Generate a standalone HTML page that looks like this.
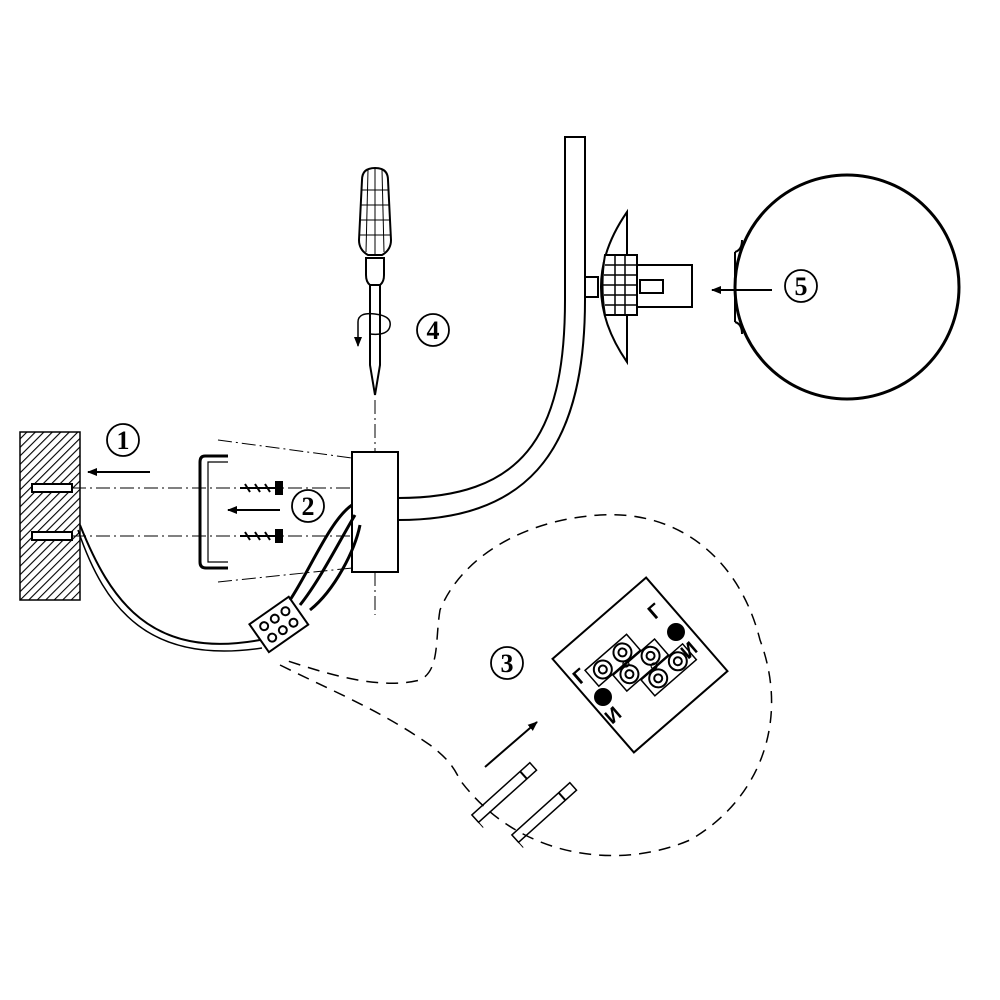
<!DOCTYPE html>
<html><head><style>body{margin:0;background:#fff}svg{display:block}</style></head><body>
<svg width="1000" height="1000" viewBox="0 0 1000 1000" xmlns="http://www.w3.org/2000/svg" font-family="Liberation Serif, serif">
<defs>
<pattern id="h" width="6" height="6" patternUnits="userSpaceOnUse" patternTransform="rotate(45)"><rect width="6" height="6" fill="#fff"/><line x1="0" y1="0" x2="0" y2="6" stroke="#000" stroke-width="2.2"/></pattern>
<marker id="a" markerWidth="10" markerHeight="8" refX="9" refY="4" orient="auto" markerUnits="userSpaceOnUse"><path d="M0,0 L10,4 L0,8z" fill="#000"/></marker>
</defs>
<g fill="none" stroke="#000" stroke-width="2">
<rect x="20" y="432" width="60" height="168" fill="url(#h)" stroke-width="1.5"/>
<rect x="32" y="484" width="40" height="8" fill="#fff"/>
<rect x="32" y="532" width="40" height="8" fill="#fff"/>
<line x1="150" y1="472" x2="88" y2="472" marker-end="url(#a)"/>
<line x1="280" y1="510" x2="228" y2="510" marker-end="url(#a)"/>
<line x1="772" y1="290" x2="712" y2="290" marker-end="url(#a)"/>
<g stroke-width="1" stroke-dasharray="14,4,2,4">
<line x1="72" y1="488" x2="352" y2="488"/>
<line x1="72" y1="536" x2="352" y2="536"/>
<line x1="218" y1="440" x2="352" y2="458"/>
<line x1="218" y1="582" x2="352" y2="568"/>
<line x1="375" y1="400" x2="375" y2="452"/>
<line x1="375" y1="572" x2="375" y2="615"/>
</g>
<path d="M228,456 H205 Q200,456 200,462 V562 Q200,568 206,568 H228" stroke-width="3"/>
<path d="M228,462 H208 V562 H228" stroke-width="1.2"/>
<path d="M240,488 H280 M245,484 L250,492 M255,484 L260,492 M265,484 L270,492" stroke-width="2"/>
<path d="M240,536 H280 M245,532 L250,540 M255,532 L260,540 M265,532 L270,540" stroke-width="2"/>
<path d="M275,482 L282,482 L282,494 L275,494" fill="#000"/>
<path d="M275,530 L282,530 L282,542 L275,542" fill="#000"/>
<rect x="352" y="452" width="46" height="120"/>
<path d="M398,498 C520,498 565,440 565,300 V137 H585 V300 C585,460 520,520 398,520"/>
<path d="M352,505 C330,520 310,570 290,600" stroke-width="3"/>
<path d="M355,515 C340,540 320,580 300,605" stroke-width="3"/>
<path d="M360,525 C355,550 335,590 310,610" stroke-width="3"/>
<path d="M80,525 C110,600 150,660 260,640" stroke-width="2"/>
<path d="M78,530 C105,610 150,665 262,648" stroke-width="1.5"/>
<g transform="rotate(-35 278 625)"><rect x="255" y="608" width="48" height="34" stroke-width="2"/>
<circle cx="266" cy="618" r="4"/><circle cx="279" cy="618" r="4"/><circle cx="292" cy="618" r="4"/>
<circle cx="266" cy="632" r="4"/><circle cx="279" cy="632" r="4"/><circle cx="292" cy="632" r="4"/></g>
<path d="M362,180 Q362,168 375,168 Q388,168 388,180 L391,240 Q391,250 382,255 H368 Q359,250 359,240 Z"/>
<g stroke-width="1"><line x1="362" y1="190" x2="389" y2="190"/><line x1="361" y1="205" x2="390" y2="205"/><line x1="360" y1="220" x2="390" y2="220"/><line x1="360" y1="235" x2="391" y2="235"/>
<line x1="368" y1="170" x2="366" y2="252"/><line x1="375" y1="168" x2="375" y2="254"/><line x1="382" y1="170" x2="384" y2="252"/></g>
<path d="M366,258 H384 V275 Q384,282 380,285 H370 Q366,282 366,275 Z"/>
<path d="M370,285 V365 L375,395 L380,365 V285"/>
<path d="M358,322 Q358,312 375,314 Q392,316 390,326 Q388,336 370,334" stroke-width="1.5"/>
<line x1="358" y1="322" x2="358" y2="346" marker-end="url(#a)" stroke-width="1.5"/>
<rect x="585" y="277" width="13" height="20"/>
<path d="M627,212 Q575,287 627,362 Z"/>
<path d="M605,255 Q600,285 605,315 H637 V255 Z" fill="#fff"/>
<g stroke-width="1.5"><line x1="605" y1="265" x2="637" y2="265"/><line x1="604" y1="275" x2="637" y2="275"/><line x1="603" y1="285" x2="637" y2="285"/><line x1="604" y1="295" x2="637" y2="295"/><line x1="605" y1="305" x2="637" y2="305"/>
<line x1="615" y1="255" x2="615" y2="315"/><line x1="625" y1="255" x2="625" y2="315"/></g>
<rect x="637" y="265" width="55" height="42"/>
<rect x="640" y="280" width="23" height="13"/>
<circle cx="847" cy="287" r="112" stroke-width="3"/>
<path d="M735,252 Q742,250 742,240 M735,322 Q742,324 742,334" stroke-width="2"/>
<line x1="735" y1="252" x2="735" y2="322"/>
<path d="M280,665 C330,690 380,710 430,745 C450,760 455,770 460,780 C520,860 620,870 690,840 C760,800 790,720 760,640 C740,560 680,510 600,515 C520,520 460,560 440,610 C435,640 440,670 420,680 C380,690 330,675 285,660" stroke-width="1.5" stroke-dasharray="12,8"/>
<g transform="translate(640,665) rotate(-41)">
<rect x="-62" y="-62" width="124" height="124"/>
<rect x="-45" y="-32" width="55" height="21" stroke-width="1.5"/>
<rect x="-27" y="-10" width="55" height="21" stroke-width="1.5"/>
<rect x="-9" y="12" width="55" height="21" stroke-width="1.5"/>
<circle cx="-31" cy="-21" r="9"/><circle cx="-31" cy="-21" r="4"/>
<circle cx="-5" cy="-21" r="9"/><circle cx="-5" cy="-21" r="4"/>
<circle cx="-14" cy="0" r="9"/><circle cx="-14" cy="0" r="4"/>
<circle cx="14" cy="0" r="9"/><circle cx="14" cy="0" r="4"/>
<circle cx="5" cy="22" r="9"/><circle cx="5" cy="22" r="4"/>
<circle cx="31" cy="22" r="9"/><circle cx="31" cy="22" r="4"/>
<circle cx="-10" cy="-10" r="3" stroke-width="1.2"/><circle cx="10" cy="10" r="3" stroke-width="1.2"/>
</g>
<circle cx="676" cy="632" r="8" fill="#000"/>
<circle cx="603" cy="697" r="8" fill="#000"/>
<g transform="rotate(-42 510 790)"><rect x="465" y="783" width="78" height="10" stroke-width="1.5"/><line x1="530" y1="783" x2="530" y2="793"/><line x1="465" y1="783" x2="465" y2="800" stroke-width="1"/></g>
<g transform="rotate(-42 550 810)"><rect x="505" y="803" width="78" height="10" stroke-width="1.5"/><line x1="568" y1="803" x2="568" y2="813"/><line x1="505" y1="803" x2="505" y2="820" stroke-width="1"/></g>
<line x1="485" y1="767" x2="537" y2="722" marker-end="url(#a)" stroke-width="2"/>
<circle cx="123" cy="440" r="16" stroke-width="1.8"/>
<circle cx="308" cy="506" r="16" stroke-width="1.8"/>
<circle cx="433" cy="330" r="16" stroke-width="1.8"/>
<circle cx="801" cy="286" r="16" stroke-width="1.8"/>
<circle cx="507" cy="663" r="16" stroke-width="1.8"/>
</g>
<g font-size="26" font-weight="bold" text-anchor="middle">
<text x="123" y="449">1</text><text x="308" y="515">2</text><text x="433" y="339">4</text><text x="801" y="295">5</text><text x="507" y="672">3</text>
</g>
<g font-family="Liberation Sans, sans-serif" font-size="20" font-weight="bold">
<text x="655" y="620" transform="rotate(-41 655 620)">Г</text>
<text x="688" y="660" transform="rotate(-41 688 660)">И</text>
<text x="580" y="685" transform="rotate(-41 580 685)">Г</text>
<text x="612" y="725" transform="rotate(-41 612 725)">И</text>
</g>
</svg>
</body></html>
